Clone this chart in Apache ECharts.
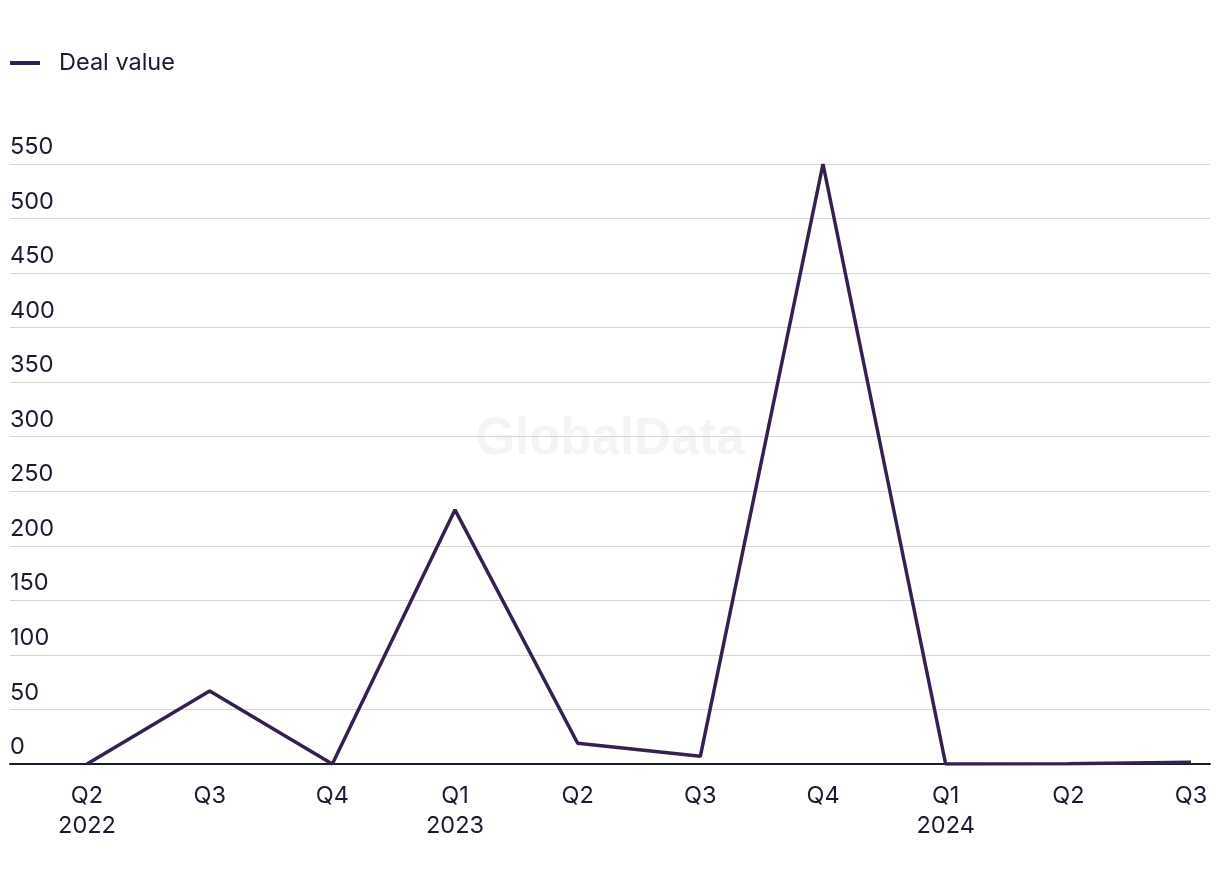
<!DOCTYPE html>
<html>
<head>
<meta charset="utf-8">
<script src="https://cdn.jsdelivr.net/npm/echarts@6/dist/echarts.min.js"></script>
<style>
html,body{margin:0;padding:0;background:#fff;}
#chart{width:1220px;height:884px;}
</style>
</head>
<body>
<div id="chart"></div>
<script>
var categories = ['Q2\n2022','Q3','Q4','Q1\n2023','Q2','Q3','Q4','Q1\n2024','Q2','Q3'];
var dealValue = [0, 67, 0, 233, 19, 7, 550, 0, 0.3, 1.5];
var yMin = 0, yMax = 550, yStep = 50;

var FONT = 'Inter, "Noto Sans", sans-serif';
var TXT = '#1d1a2e';
var chart = echarts.init(document.getElementById('chart'));
chart.setOption({
  backgroundColor: '#ffffff',
  animation: false,
  textStyle: {fontFamily: FONT},
  graphic: [{
    type: 'text', left: 'center', top: 414, z: 0,
    style: {text: 'GlobalData', fontSize: 51, fontWeight: 'bold', fontFamily: 'Arial, sans-serif', fill: '#f4f4f4'}
  }],
  legend: {
    left: 5, top: 46,
    icon: 'path://M0,0 L30,0 L30,4 L0,4 Z',
    itemWidth: 32, itemHeight: 4, itemGap: 20,
    textStyle: {fontSize: 23.5, color: TXT, fontFamily: FONT, padding: [0,0,0,13]},
    data: ['Deal value']
  },
  grid: [
    {left: 10, right: 10, top: 164, bottom: 120, containLabel: false},
    {left: 87, right: 29, top: 164, bottom: 120, containLabel: false}
  ],
  xAxis: [
    {gridIndex: 0, type: 'value', min: 0, max: 1, axisLine: {show: true, onZero: false, lineStyle: {color: '#1a1a2e', width: 2}},
     axisTick: {show: false}, axisLabel: {show: false}, splitLine: {show: false}},
    {gridIndex: 1, type: 'category', data: categories, boundaryGap: false,
     axisLine: {show: false}, axisTick: {show: false}, splitLine: {show: false},
     axisLabel: {fontSize: 23.5, color: TXT, lineHeight: 30, margin: 17, fontFamily: FONT, interval: 0}}
  ],
  yAxis: [
    {gridIndex: 0, type: 'value', min: yMin, max: yMax, interval: yStep,
     axisLine: {show: false}, axisTick: {show: false},
     splitLine: {show: true, lineStyle: {color: '#d6d6d6', width: 1}},
     axisLabel: {inside: true, margin: 0, fontSize: 23.5, color: TXT, fontFamily: FONT, verticalAlign: 'bottom', padding: [0,0,5,0]}},
    {gridIndex: 1, type: 'value', min: yMin, max: yMax, interval: yStep, show: false}
  ],
  series: [{
    name: 'Deal value', type: 'line', xAxisIndex: 1, yAxisIndex: 1,
    data: dealValue, symbol: 'none', z: 3,
    lineStyle: {color: '#35214f', width: 3.5}, itemStyle: {color: '#35214f'}
  }]
});
</script>
</body>
</html>
